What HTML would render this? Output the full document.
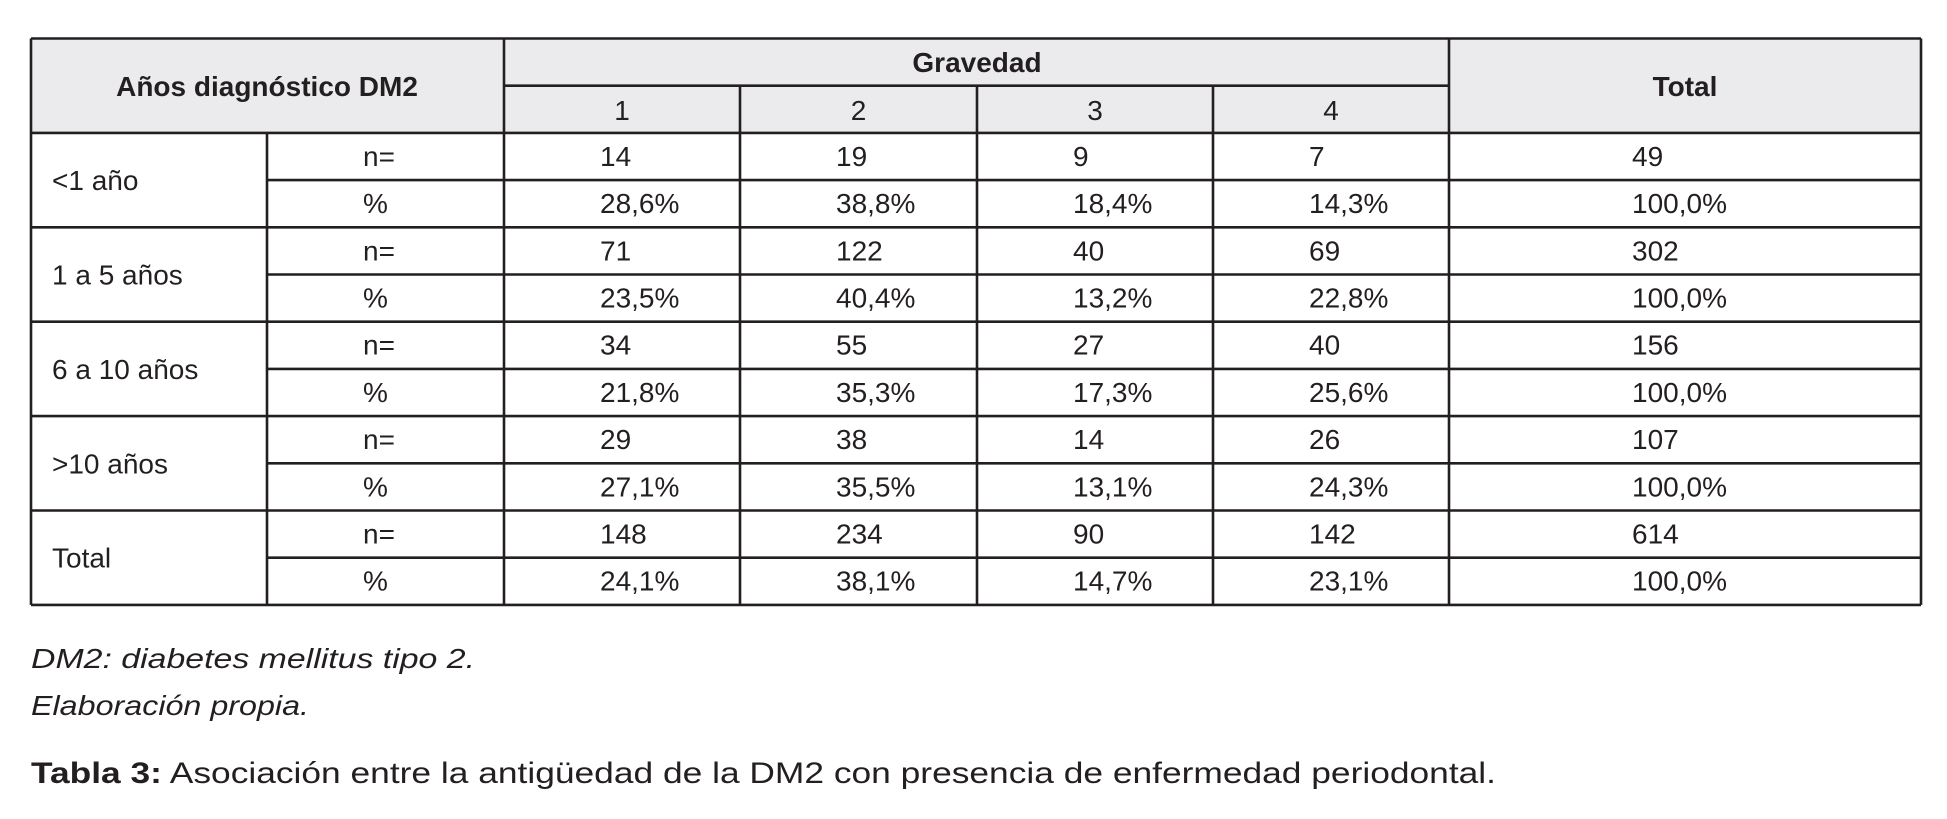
<!DOCTYPE html>
<html><head><meta charset="utf-8"><style>
html,body{margin:0;padding:0;background:#fff;}
svg{display:block;}
.t{font-family:"Liberation Sans Narrow","Liberation Sans",sans-serif;font-size:28px;fill:#231f20;}
.b{font-weight:bold;}
.f{font-family:"Liberation Sans",sans-serif;fill:#231f20;}
</style></head><body>
<svg id="tbl" width="1947" height="819" viewBox="0 0 1947 819" xmlns="http://www.w3.org/2000/svg">
<rect x="31" y="38.5" width="1890" height="94.4" fill="#ebebed"/>
<g id="lines" stroke="#231f20" stroke-width="2.6" fill="none"></g>
<text class="t b" x="267" y="96" text-anchor="middle">Años diagnóstico DM2</text>
<text class="t b" x="977" y="72" text-anchor="middle">Gravedad</text>
<text class="t b" x="1685" y="96" text-anchor="middle">Total</text>
<g id="cells"></g>
<text class="f" x="31" y="668" font-size="28" font-style="italic" textLength="444" lengthAdjust="spacingAndGlyphs">DM2: diabetes mellitus tipo 2.</text>
<text class="f" x="31" y="715" font-size="28" font-style="italic" textLength="278" lengthAdjust="spacingAndGlyphs">Elaboración propia.</text>
<text class="f" x="31" y="783" font-size="30" textLength="1465" lengthAdjust="spacingAndGlyphs"><tspan font-weight="bold">Tabla 3:</tspan>  Asociación entre la antigüedad de la DM2 con presencia de enfermedad periodontal.</text>
</svg>
<script>
const groups = ["<1 año","1 a 5 años","6 a 10 años",">10 años","Total"];
const gravedadLevels = ["1","2","3","4"];
const counts = [[14,19,9,7,49],[71,122,40,69,302],[34,55,27,40,156],[29,38,14,26,107],[148,234,90,142,614]];
const percents = [["28,6%","38,8%","18,4%","14,3%","100,0%"],["23,5%","40,4%","13,2%","22,8%","100,0%"],["21,8%","35,3%","17,3%","25,6%","100,0%"],["27,1%","35,5%","13,1%","24,3%","100,0%"],["24,1%","38,1%","14,7%","23,1%","100,0%"]];

const NS="http://www.w3.org/2000/svg";
const colX=[31,267,504,740,977,1213,1449,1921];
const top0=38.5, rowH=47.2;
const rowY=i=>top0+rowH*i;
const nRows=2+groups.length*2;
const lines=document.getElementById('lines');
const cells=document.getElementById('cells');
function line(x1,y1,x2,y2){
  const l=document.createElementNS(NS,'line');
  l.setAttribute('x1',x1);l.setAttribute('y1',y1);l.setAttribute('x2',x2);l.setAttribute('y2',y2);
  
  
  lines.appendChild(l);
}
function txt(s,x,y,anchor,name){
  const t=document.createElementNS(NS,'text');
  t.setAttribute('class','t');t.setAttribute('x',x);t.setAttribute('y',y);
  if(anchor)t.setAttribute('text-anchor',anchor);
  t.textContent=s;
  
  
  cells.appendChild(t);
}
// outer
line(colX[0],rowY(0),colX[7],rowY(0));
line(colX[0],rowY(nRows),colX[7],rowY(nRows));
line(colX[2],rowY(1),colX[6],rowY(1));
for(let r=2;r<nRows;r++){ line(r%2===0?colX[0]:colX[1],rowY(r),colX[7],rowY(r)); }
line(colX[0],rowY(0),colX[0],rowY(nRows));
line(colX[7],rowY(0),colX[7],rowY(nRows));
line(colX[2],rowY(0),colX[2],rowY(nRows));
line(colX[6],rowY(0),colX[6],rowY(nRows));
line(colX[1],rowY(2),colX[1],rowY(nRows));
for(let c=3;c<6;c++) line(colX[c],rowY(1),colX[c],rowY(nRows));
gravedadLevels.forEach((g,i)=>txt(g,(colX[i+2]+colX[i+3])/2,rowY(2)-13,'middle','gravedad-level-'+g));
groups.forEach((g,gi)=>{
  const r=2+gi*2;
  txt(g,52,rowY(r+1)+10,null,'group-label');
  txt('n=',colX[1]+96,rowY(r)+33,null,'n-label');
  txt('%',colX[1]+96,rowY(r+1)+33,null,'percent-label');
  counts[gi].forEach((v,ci)=>{
    const x=ci<4?colX[ci+2]+96:colX[6]+183;
    txt(String(v),x,rowY(r)+33,null,'count-cell');
    txt(percents[gi][ci],x,rowY(r+1)+33,null,'percent-cell');
  });
});
</script>
</body></html>
